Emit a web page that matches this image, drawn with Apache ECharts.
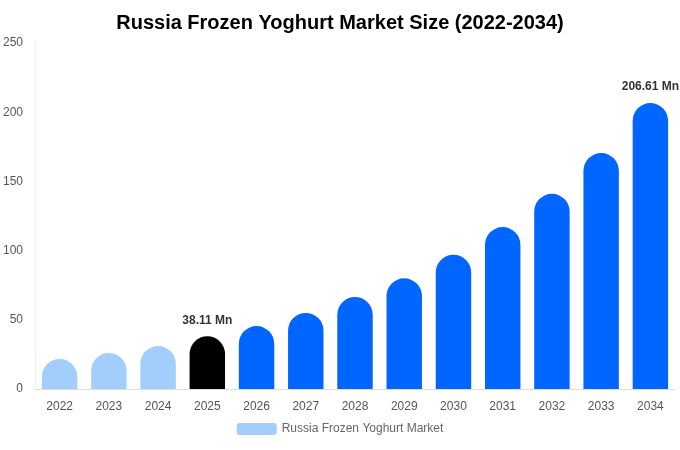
<!DOCTYPE html>
<html><head><meta charset="utf-8">
<script src="https://cdn.jsdelivr.net/npm/echarts@6/dist/echarts.min.js"></script>
<style>body{margin:0}#c{width:680px;height:450px}</style></head>
<body><div id="c"></div>
<script>
var years = ['2022','2023','2024','2025','2026','2027','2028','2029','2030','2031','2032','2033','2034'];
var values = [21.7, 26, 31, 38.11, 45.5, 55, 66.5, 80, 97, 117, 141, 170.5, 206.61];
var labelled = { '2025': '38.11 Mn', '2034': '206.61 Mn' };

function barColor(y) {
    if (y < 2025) return '#a3cdfb';
    if (y == 2025) return '#000000';
    return '#0066ff';
}

var data = values.map(function(v, i) {
    var item = { value: v, itemStyle: { color: barColor(+years[i]) } };
    if (labelled[years[i]]) {
        item.label = { show: true, position: 'top', distance: 10, formatter: labelled[years[i]],
            fontWeight: 'bold', fontSize: 12, color: '#333' };
    }
    return item;
});

var chart = echarts.init(document.getElementById('c'));
chart.setOption({
    title: { text: 'Russia Frozen Yoghurt Market Size (2022-2034)', left: 'center', top: 8,
        textStyle: { fontSize: 20, fontWeight: 'bold', color: '#000', fontFamily: 'Liberation Sans' } },
    textStyle: { fontFamily: 'Liberation Sans' },
    legend: { bottom: 10, itemWidth: 40, itemHeight: 12, itemGap: 6,
        textStyle: { color: '#666', fontSize: 12 },
        data: [{ name: 'Russia Frozen Yoghurt Market', itemStyle: { color: '#a3cdfb' } }] },
    grid: { left: 35, right: 5, top: 43, bottom: 61 },
    xAxis: { type: 'category', data: years,
        axisLine: { lineStyle: { color: '#ddd' } }, axisTick: { show: false },
        axisLabel: { color: '#555', fontSize: 12, margin: 12 } },
    yAxis: { type: 'value', min: 0, max: 250, interval: 50,
        axisLine: { show: true, lineStyle: { color: '#eee' } },
        splitLine: { show: false },
        axisLabel: { color: '#555', fontSize: 12, margin: 12 } },
    series: [{ name: 'Russia Frozen Yoghurt Market', type: 'bar', barWidth: '72%',
        itemStyle: { borderRadius: [18, 18, 0, 0] }, data: data }]
});
</script></body></html>
